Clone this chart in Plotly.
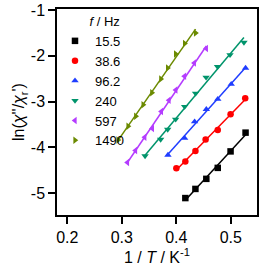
import numpy as np
import plotly.graph_objects as go

freqs = ["15.5", "38.6", "96.2", "240", "597", "1490"]

x_15_5 = [0.4165, 0.435, 0.455, 0.476, 0.4995, 0.527]
y_15_5 = [-5.11, -4.91, -4.69, -4.45, -4.09, -3.68]

x_38_6 = [0.400, 0.4165, 0.435, 0.4537, 0.476, 0.4995, 0.5264]
y_38_6 = [-4.46, -4.31, -4.08, -3.83, -3.62, -3.28, -2.93]

x_96_2 = [0.3846, 0.4152, 0.4335, 0.455, 0.476, 0.5007, 0.527]
y_96_2 = [-4.17, -3.80, -3.44, -3.17, -2.95, -2.62, -2.27]

x_240 = [0.3426, 0.3712, 0.3841, 0.3987, 0.4152, 0.4353, 0.4546, 0.4756, 0.4985, 0.524]
y_240 = [-4.19, -3.83, -3.61, -3.39, -3.11, -2.82, -2.47, -2.24, -1.98, -1.71]

x_597 = [0.3103, 0.325, 0.342, 0.356, 0.3725, 0.3865, 0.399, 0.415, 0.433, 0.455]
y_597 = [-4.33, -4.07, -3.78, -3.59, -3.22, -2.97, -2.75, -2.45, -2.16, -1.84]

x_1490 = [0.293, 0.3114, 0.3255, 0.339, 0.355, 0.3715, 0.384, 0.3987, 0.4152, 0.4353]
y_1490 = [-3.84, -3.54, -3.32, -3.07, -2.81, -2.51, -2.27, -1.96, -1.73, -1.50]

xs = [x_15_5, x_38_6, x_96_2, x_240, x_597, x_1490]
ys = [y_15_5, y_38_6, y_96_2, y_240, y_597, y_1490]
colors = ["#000000", "#ff0000", "#1f3dff", "#00946b", "#b43cff", "#6b8a00"]
symbols = ["square", "circle", "triangle-up", "triangle-down", "triangle-left", "triangle-right"]

fig = go.Figure()
for f, x, y, c, s in zip(freqs, xs, ys, colors, symbols):
    xa = np.array(x)
    k, b = np.polyfit(xa, np.array(y), 1)
    xl = np.array([xa.min(), xa.max()])
    fig.add_trace(go.Scatter(x=xl, y=k * xl + b, mode="lines",
                             line=dict(color=c, width=1.5), showlegend=False,
                             hoverinfo="skip"))
    fig.add_trace(go.Scatter(x=x, y=y, mode="markers", name=f,
                             marker=dict(symbol=s, color=c, size=6.5)))

axis_common = dict(showline=True, linecolor="black", linewidth=1.5, mirror=True,
                   ticks="outside", ticklen=7, tickwidth=1.5, tickcolor="black",
                   showgrid=False, zeroline=False, automargin=False,
                   tickfont=dict(size=16, color="black"))

fig.update_xaxes(range=[0.181, 0.548], tickvals=[0.2, 0.3, 0.4, 0.5],
                 ticktext=["0.2", "0.3", "0.4", "0.5"],
                 title=dict(text="1 / <i>T</i> / K<sup>-1</sup>", font=dict(size=16, color="black"),
                            standoff=0),
                 **axis_common)
fig.update_yaxes(range=[-5.48, -0.978], tickvals=[-5, -4, -3, -2, -1],
                 ticktext=["-5", "-4", "-3", "-2", "-1"],
                 title=dict(text="ln(<i>χ</i>''/<i>χ</i><sub>r</sub>')", font=dict(size=16, color="black"),
                            standoff=2),
                 **axis_common)

fig.update_layout(
    width=261, height=266,
    margin=dict(l=57, r=4, t=9, b=51),
    paper_bgcolor="white", plot_bgcolor="white",
    font=dict(family="Liberation Sans, Arial, sans-serif", color="black"),
    legend=dict(x=-0.01, y=1.0, xanchor="left", yanchor="top",
                bgcolor="rgba(0,0,0,0)", font=dict(size=13),
                title=dict(text="\u00a0" * 9 + "<i>f</i> / Hz", font=dict(size=13)),
                itemwidth=30),
)

fig.write_html("out.html", config={"displayModeBar": False},
               post_script="document.body.style.margin='0';document.body.style.overflow='hidden';")
